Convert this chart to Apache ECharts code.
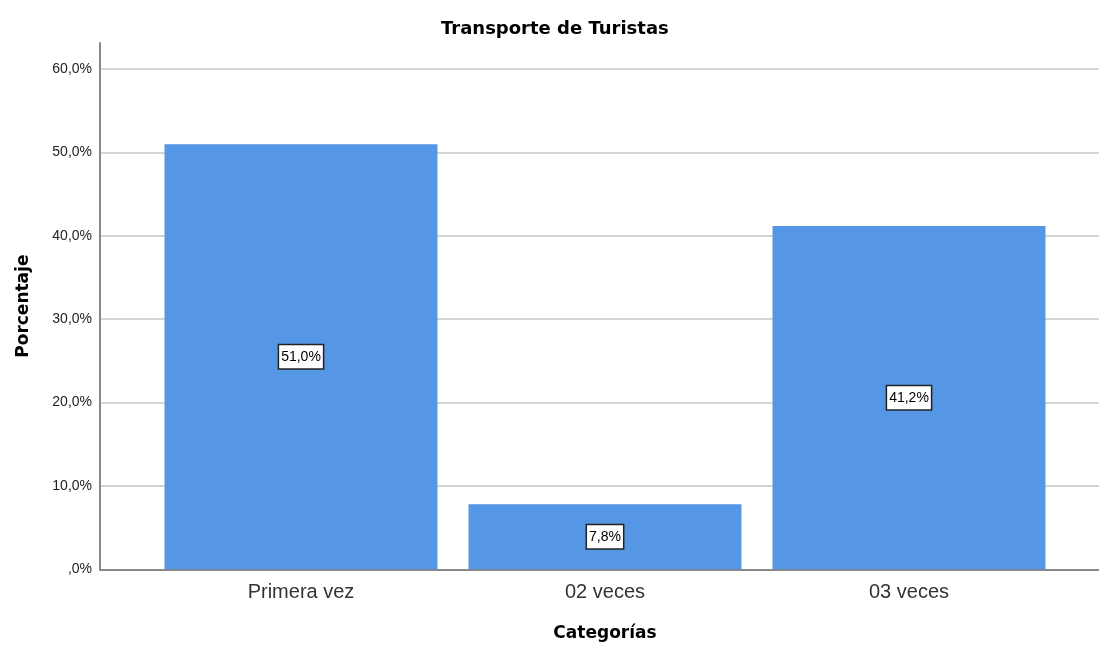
<!DOCTYPE html>
<html>
<head>
<meta charset="utf-8">
<script src="https://cdn.jsdelivr.net/npm/echarts@6/dist/echarts.min.js"></script>
<style>
  html, body { margin: 0; padding: 0; background: #fff; }
  #chart { width: 1099px; height: 646px; }
</style>
</head>
<body>
<div id="chart"></div>
<script>
const categories = ['Primera vez', '02 veces', '03 veces']
const percentages = [51.0, 7.8, 41.2]
const yTicks = [0, 10, 20, 30, 40, 50, 60]

const font = '"Liberation Sans", Arial, sans-serif'
const boldFont = '"DejaVu Sans", sans-serif'

function pct (value) {
  let s = value.toFixed(1).replace('.', ',')
  if (s.indexOf('0,') === 0) s = s.substring(1)
  return s + '%'
}

const chart = echarts.init(document.getElementById('chart'))
chart.setOption({
  backgroundColor: '#fff',
  animation: false,
  title: {
    text: 'Transporte de Turistas',
    left: 436,
    top: 15,
    textStyle: { fontFamily: boldFont, fontSize: 18, fontWeight: 'bold', color: '#000' }
  },
  grid: [
    // gridlines, tick labels and horizontal axis line
    { left: 100, right: 0, top: 69, bottom: 76.7, outerBoundsMode: 'none' },
    // bars
    { left: 149, right: 38, top: 43, bottom: 76.7, outerBoundsMode: 'none' }
  ],
  xAxis: [
    {
      gridIndex: 0,
      type: 'value',
      min: 0,
      max: 1,
      axisLine: { show: true, lineStyle: { color: '#888', width: 2 } },
      axisTick: { show: false },
      axisLabel: { show: false },
      splitLine: { show: false }
    },
    {
      gridIndex: 1,
      type: 'category',
      data: categories,
      name: 'Categorías',
      nameLocation: 'middle',
      nameGap: 56,
      nameTextStyle: { fontFamily: boldFont, fontSize: 17, fontWeight: 'bold', color: '#000' },
      axisLine: { show: false },
      axisTick: { show: false },
      axisLabel: { fontFamily: font, fontSize: 20, color: '#333', margin: 13 }
    }
  ],
  yAxis: [
    {
      gridIndex: 0,
      type: 'value',
      min: yTicks[0],
      max: yTicks[yTicks.length - 1],
      interval: 10,
      axisLine: { show: false },
      axisTick: { show: false },
      axisLabel: {
        fontFamily: font, fontSize: 14, color: '#222', margin: 8,
        formatter: pct
      },
      splitLine: { show: true, lineStyle: { color: '#d4d4d4', width: 2 } }
    },
    {
      gridIndex: 1,
      type: 'value',
      min: 0,
      max: 63.16,
      offset: 49,
      name: 'Porcentaje',
      nameLocation: 'middle',
      nameGap: 68,
      nameTextStyle: { fontFamily: boldFont, fontSize: 17, fontWeight: 'bold', color: '#000' },
      axisLine: { show: true, lineStyle: { color: '#888', width: 2 } },
      axisTick: { show: false },
      axisLabel: { show: false },
      splitLine: { show: false }
    }
  ],
  series: [{
    type: 'bar',
    xAxisIndex: 1,
    yAxisIndex: 1,
    data: percentages,
    barWidth: 273,
    itemStyle: { color: '#5596e5' },
    label: {
      show: true,
      position: 'inside',
      formatter: function (p) { return pct(p.value) },
      fontFamily: font,
      fontSize: 14,
      color: '#000',
      backgroundColor: '#fff',
      borderColor: '#222',
      borderWidth: 1.5,
      padding: [5, 2, 4, 2]
    }
  }]
})
</script>
</body>
</html>
